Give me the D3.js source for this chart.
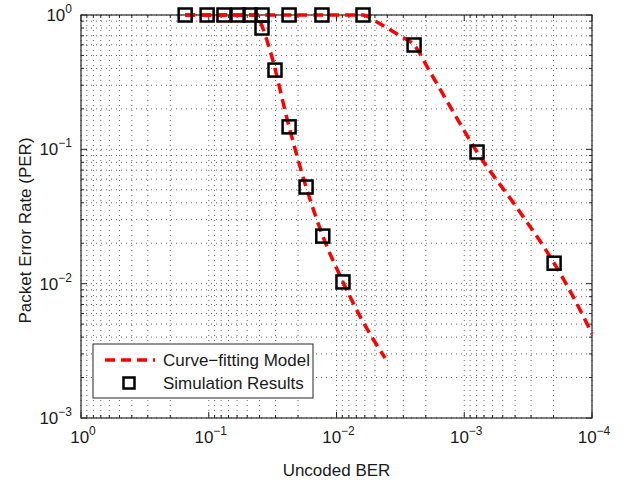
<!DOCTYPE html>
<html>
<head>
<meta charset="utf-8">
<script src="https://cdn.jsdelivr.net/npm/d3@7"></script>
<style>
  body { margin: 0; background: #fff; }
  text { font-family: "Liberation Sans", Arial, sans-serif; fill: #1a1a1a; }
</style>
</head>
<body>
<script>
// simulation results (squares)
var sim1X = [0.153, 0.103, 0.076, 0.059, 0.0475, 0.0383, 0.0383, 0.0303, 0.0235, 0.0173, 0.0128, 0.0089];
var sim1Y = [1, 1, 1, 1, 1, 1, 0.80, 0.389, 0.147, 0.0524, 0.0226, 0.0103];
var sim2X = [0.0235, 0.0130, 0.0062, 0.00247, 0.000794, 0.000198];
var sim2Y = [1, 1, 1, 0.598, 0.0955, 0.0142];

// curve-fitting model (red dashed)
var model1X = [0.153, 0.0419, 0.0383, 0.0332, 0.0235, 0.0173, 0.0128, 0.0089, 0.00631, 0.00417];
var model1Y = [1, 1, 0.828, 0.549, 0.147, 0.0524, 0.0226, 0.0103, 0.00536, 0.0028];
var model2X = [0.153, 0.00621, 0.0050, 0.00318, 0.00247, 0.00185, 0.00118, 0.000794, 0.000401, 0.000198, 0.000136, 0.0001];
var model2Y = [1, 1, 0.902, 0.698, 0.598, 0.376, 0.180, 0.0955, 0.0385, 0.0142, 0.00755, 0.00423];

var xMajor = [1, 1e-1, 1e-2, 1e-3, 1e-4];
var xExp = ["0", "\u22121", "\u22122", "\u22123", "\u22124"];
var yMajor = [1, 1e-1, 1e-2, 1e-3];
var yExp = ["0", "\u22121", "\u22122", "\u22123"];

var legendLabels = ["Curve\u2212fitting Model", "Simulation Results"];

var w = 628, h = 485;
var margin = {top: 15, right: 36, bottom: 67, left: 81};
var iw = w - margin.left - margin.right,
  ih = h - margin.top - margin.bottom;

var svg = d3.select("body").append("svg")
  .attr("width", w)
  .attr("height", h);

var g = svg.append("g")
  .attr("transform", "translate(" + margin.left + "," + margin.top + ")");

// x is reversed: 1 at left, 1e-4 at right
var x = d3.scaleLog().domain([1, 1e-4]).range([0, iw]);
var y = d3.scaleLog().domain([1e-3, 1]).range([ih, 0]);

// all decade sub-ticks 1..9
function logTicks(lo, hi) {
  var out = [];
  for (var e = Math.round(Math.log10(lo)); e < Math.round(Math.log10(hi)); e++) {
    for (var m = 1; m <= 9; m++) out.push(m * Math.pow(10, e));
  }
  out.push(hi);
  return out;
}
var xAll = logTicks(1e-4, 1);
var yAll = logTicks(1e-3, 1);

// dotted grid
var grid = g.append("g").attr("class", "grid")
  .attr("stroke", "#555")
  .attr("stroke-width", 0.9)
  .attr("stroke-dasharray", "1,4");
grid.selectAll(".gx").data(xAll).enter().append("line")
  .attr("x1", function (d) { return x(d); })
  .attr("x2", function (d) { return x(d); })
  .attr("y1", 0).attr("y2", ih);
grid.selectAll(".gy").data(yAll).enter().append("line")
  .attr("y1", function (d) { return y(d); })
  .attr("y2", function (d) { return y(d); })
  .attr("x1", 0).attr("x2", iw);

// inward ticks on all four sides
var isMajor = function (d) {
  var l = Math.log10(d);
  return Math.abs(l - Math.round(l)) < 1e-6;
};
var ticks = g.append("g").attr("stroke", "#262626").attr("stroke-width", 1);
xAll.forEach(function (d) {
  var len = isMajor(d) ? 6 : 3;
  ticks.append("line").attr("x1", x(d)).attr("x2", x(d)).attr("y1", ih).attr("y2", ih - len);
  ticks.append("line").attr("x1", x(d)).attr("x2", x(d)).attr("y1", 0).attr("y2", len);
});
yAll.forEach(function (d) {
  var len = isMajor(d) ? 6 : 3;
  ticks.append("line").attr("y1", y(d)).attr("y2", y(d)).attr("x1", 0).attr("x2", len);
  ticks.append("line").attr("y1", y(d)).attr("y2", y(d)).attr("x1", iw).attr("x2", iw - len);
});

// box
g.append("rect")
  .attr("width", iw).attr("height", ih)
  .attr("fill", "none")
  .attr("stroke", "#262626")
  .attr("stroke-width", 1.2);

// tick labels as 10^n
var xl = g.append("g").selectAll("text").data(xMajor).enter().append("text")
  .attr("x", function (d) { return x(d) + 2; })
  .attr("y", ih + 25)
  .attr("text-anchor", "middle")
  .style("font-size", "17px");
xl.append("tspan").text("10");
xl.append("tspan").attr("dy", -8).style("font-size", "12px")
  .text(function (d, i) { return xExp[i]; });

var yl = g.append("g").selectAll("text").data(yMajor).enter().append("text")
  .attr("x", -9)
  .attr("y", function (d) { return y(d) + 6; })
  .attr("text-anchor", "end")
  .style("font-size", "17px");
yl.append("tspan").text("10");
yl.append("tspan").attr("dy", -8).style("font-size", "12px")
  .text(function (d, i) { return yExp[i]; });

// axis titles
svg.append("text")
  .attr("x", margin.left + iw / 2)
  .attr("y", 476)
  .attr("text-anchor", "middle")
  .style("font-size", "17px")
  .text("Uncoded BER");
svg.append("text")
  .attr("transform", "translate(31," + (margin.top + ih / 2 + 14) + ") rotate(-90)")
  .attr("text-anchor", "middle")
  .style("font-size", "17px")
  .text("Packet Error Rate (PER)");

// model curves
var line = d3.line()
  .x(function (d) { return x(d[0]); })
  .y(function (d) { return y(d[1]); })
  .curve(d3.curveMonotoneX);

function zip(a, b) { return a.map(function (v, i) { return [v, b[i]]; }); }

[zip(model1X, model1Y), zip(model2X, model2Y)].forEach(function (pts) {
  g.append("path")
    .datum(pts)
    .attr("d", line)
    .attr("fill", "none")
    .attr("stroke", "#ff0000")
    .attr("stroke-width", 3.5)
    .attr("stroke-dasharray", "10,6");
});

// simulation squares
var sq = 13;
var simPts = zip(sim1X, sim1Y).concat(zip(sim2X, sim2Y));
g.append("g").selectAll("rect").data(simPts).enter().append("rect")
  .attr("x", function (d) { return x(d[0]) - sq / 2; })
  .attr("y", function (d) { return y(d[1]) - sq / 2; })
  .attr("width", sq).attr("height", sq)
  .attr("fill", "none")
  .attr("stroke", "#000")
  .attr("stroke-width", 2.5);

// legend
var lg = svg.append("g").attr("transform", "translate(93,344)");
lg.append("rect")
  .attr("width", 220).attr("height", 54)
  .attr("fill", "#fff")
  .attr("stroke", "#262626")
  .attr("stroke-width", 1);
lg.append("line")
  .attr("x1", 12).attr("x2", 62).attr("y1", 16).attr("y2", 16)
  .attr("stroke", "#ff0000")
  .attr("stroke-width", 3.5)
  .attr("stroke-dasharray", "10,6");
lg.append("rect")
  .attr("x", 36 - 5.5).attr("y", 39 - 5.5)
  .attr("width", 11).attr("height", 11)
  .attr("fill", "none")
  .attr("stroke", "#000")
  .attr("stroke-width", 2.5);
lg.selectAll(".lt").data(legendLabels).enter().append("text")
  .attr("x", 70)
  .attr("y", function (d, i) { return 22 + i * 23; })
  .style("font-size", "17px")
  .text(function (d) { return d; });
</script>
</body>
</html>
